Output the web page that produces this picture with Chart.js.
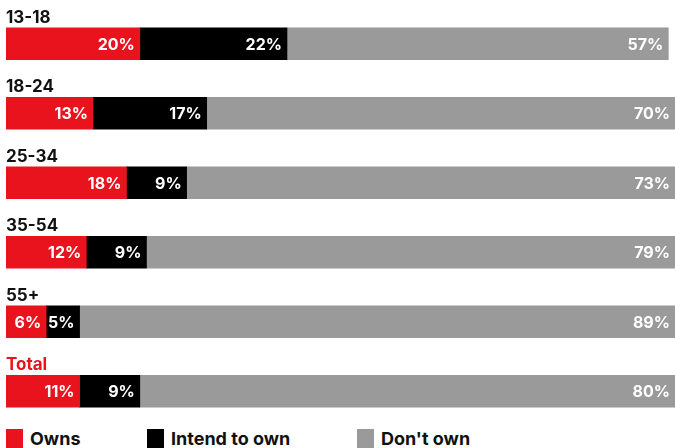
<!DOCTYPE html>
<html>
<head>
<meta charset="utf-8">
<script src="https://cdn.jsdelivr.net/npm/chart.js@4"></script>
<style>
  html, body { margin: 0; padding: 0; background: #fff; }
  #wrap { position: relative; width: 675px; height: 448px; font-family: Inter, "Noto Sans", sans-serif; }
  #chart { position: absolute; left: 0; top: 0; }
  #legend { position: absolute; left: 6px; top: 429px; display: flex; font-weight: 700; font-size: 18px; color: #111; }
  #legend .item { display: flex; align-items: center; height: 19px; }
  #legend .box { width: 17px; height: 19px; margin-right: 7px; }
</style>
</head>
<body>
<div id="wrap">
  <canvas id="chart" width="675" height="428"></canvas>
  <div id="legend"></div>
</div>
<script>
const categories = ['13-18', '18-24', '25-34', '35-54', '55+', 'Total'];
const owns = [20, 13, 18, 12, 6, 11];
const intendToOwn = [22, 17, 9, 9, 5, 9];
const dontOwn = [57, 70, 73, 79, 89, 80];
const seriesNames = ['Owns', 'Intend to own', "Don't own"];
const colors = ['#e9131d', '#000000', '#9a9a9a'];

// labels above each bar (group name), Total in red
const groupLabels = {
    id: 'groupLabels',
    afterDatasetsDraw(chart) {
        const ctx = chart.ctx;
        const meta = chart.getDatasetMeta(0);
        ctx.save();
        ctx.font = '700 17px Inter, "Noto Sans", sans-serif';
        ctx.textAlign = 'left';
        ctx.textBaseline = 'alphabetic';
        meta.data.forEach((bar, i) => {
            ctx.fillStyle = categories[i] === 'Total' ? '#e9131d' : '#111111';
            ctx.fillText(categories[i], chart.chartArea.left, bar.y - bar.height / 2 - 5);
        });
        ctx.restore();
    }
};

// white percentage at the right end of every segment
const valueLabels = {
    id: 'valueLabels',
    afterDatasetsDraw(chart) {
        const ctx = chart.ctx;
        ctx.save();
        ctx.font = '700 16px Inter, "Noto Sans", sans-serif';
        ctx.fillStyle = '#ffffff';
        ctx.textAlign = 'right';
        ctx.textBaseline = 'middle';
        chart.data.datasets.forEach((ds, di) => {
            chart.getDatasetMeta(di).data.forEach((bar, i) => {
                ctx.fillText(ds.data[i] + '%', bar.x - 5, bar.y + 1);
            });
        });
        ctx.restore();
    }
};

const chart = new Chart(document.getElementById('chart').getContext('2d'), {
    type: 'bar',
    data: {
        labels: categories,
        datasets: [
            { label: seriesNames[0], data: owns, backgroundColor: colors[0] },
            { label: seriesNames[1], data: intendToOwn, backgroundColor: colors[1] },
            { label: seriesNames[2], data: dontOwn, backgroundColor: colors[2] }
        ]
    },
    options: {
        indexAxis: 'y',
        responsive: false,
        animation: false,
        barThickness: 32,
        borderSkipped: false,
        layout: { padding: { left: 6, right: 0, top: 9, bottom: 2 } },
        scales: {
            x: { stacked: true, min: 0, max: 100, display: false },
            y: { stacked: true, display: false }
        },
        plugins: {
            legend: { display: false },
            tooltip: { enabled: false }
        }
    },
    plugins: [groupLabels, valueLabels]
});

// legend under the chart
const legendEl = document.getElementById('legend');
const itemWidths = [141, 210, 200];
chart.data.datasets.forEach((ds, i) => {
    const item = document.createElement('div');
    item.className = 'item';
    item.style.width = itemWidths[i] + 'px';
    item.innerHTML = '<span class="box" style="background:' + ds.backgroundColor + '"></span>' + ds.label;
    legendEl.appendChild(item);
});
</script>
</body>
</html>
